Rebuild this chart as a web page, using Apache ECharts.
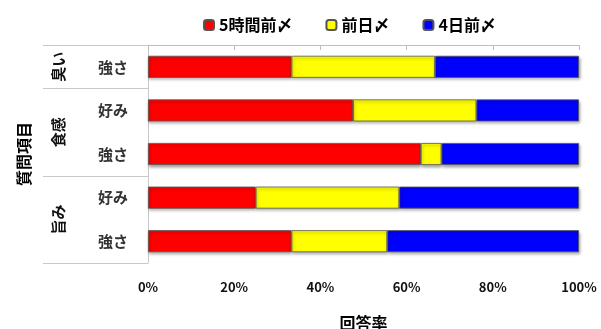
<!DOCTYPE html>
<html>
<head>
<meta charset="utf-8">
<script src="https://cdn.jsdelivr.net/npm/echarts@6/dist/echarts.min.js"></script>
<style>
    html, body {margin: 0; padding: 0; background: #fff;}
    #chart {width: 601px; height: 329px;}
</style>
</head>
<body>
<div id="chart"></div>
<script>
// top to bottom
var categories = ['強さ', '好み', '強さ', '好み', '強さ'];
var groups = ['臭い', '食感', '旨み'];
var groupSizes = [1, 2, 2];
var seriesNames = ['5時間前〆', '前日〆', '4日前〆'];
var before5h = [33.3, 47.6, 63.3, 25.0, 33.3];
var dayBefore = [33.3, 28.6, 4.8, 33.3, 22.2];
var before4d = [33.4, 23.8, 31.9, 41.7, 44.5];
var xTicks = [0, 20, 40, 60, 80, 100];

// group boundaries / centers on a 0..n scale
var bounds = [0], centers = [];
groupSizes.forEach(function (s, i) {
    centers.push(bounds[i] + s / 2);
    bounds.push(bounds[i] + s);
});

var font = '"Noto Sans CJK JP", sans-serif';
var colors = ['#ff0000', '#ffff00', '#0000ff'];
var values = [before5h, dayBefore, before4d];

var chart = echarts.init(document.getElementById('chart'));
chart.setOption({
    animation: false,
    textStyle: {fontFamily: font},
    legend: {
        top: 12, left: 198, itemWidth: 10, itemHeight: 10, itemGap: 33,
        textStyle: {fontSize: 16, fontWeight: 'bold', color: '#000', fontFamily: font},
        data: seriesNames
    },
    grid: {left: 148, right: 22, top: 45, bottom: 66, outerBoundsMode: 'none', containLabel: false},
    xAxis: {
        type: 'value', min: xTicks[0], max: xTicks[xTicks.length - 1], interval: 20,
        name: '回答率', nameLocation: 'middle', nameGap: 52,
        nameTextStyle: {fontSize: 16, fontWeight: 'bold', color: '#000', fontFamily: font},
        axisLine: {show: true, lineStyle: {color: '#bdbdbd'}},
        axisTick: {show: true, length: 5, lineStyle: {color: '#bdbdbd'}},
        axisLabel: {formatter: '{value}%', margin: 18, fontSize: 13, fontWeight: 'bold', color: '#111', fontFamily: font},
        splitLine: {show: false}
    },
    yAxis: [{
        type: 'category', inverse: true, data: categories,
        axisLine: {lineStyle: {color: '#c8c8c8'}},
        axisTick: {show: false},
        axisLabel: {margin: 20, fontSize: 15, fontWeight: 'bold', color: '#333', fontFamily: font}
    }, {
        type: 'value', inverse: true, position: 'left', min: 0, max: bounds[bounds.length - 1],
        name: '質問項目', nameLocation: 'middle', nameRotate: 90, nameGap: 116,
        nameTextStyle: {fontSize: 16, fontWeight: 'bold', color: '#000', fontFamily: font},
        axisLine: {show: false},
        axisTick: {show: true, customValues: bounds, length: 105, lineStyle: {color: '#c8c8c8'}},
        axisLabel: {
            customValues: centers, rotate: 90, margin: 82,
            fontSize: 15, fontWeight: 'bold', color: '#111', fontFamily: font,
            formatter: function (v) { return groups[centers.indexOf(v)]; }
        },
        splitLine: {show: false}
    }],
    series: seriesNames.map(function (name, i) {
        return {
            name: name, type: 'bar', stack: 'total', barWidth: 22, yAxisIndex: 0,
            itemStyle: {
                color: colors[i], borderColor: '#555', borderWidth: 0.8,
                shadowColor: 'rgba(0,0,0,0.35)', shadowBlur: 3, shadowOffsetX: 1, shadowOffsetY: 2
            },
            data: values[i]
        };
    })
});
</script>
</body>
</html>
